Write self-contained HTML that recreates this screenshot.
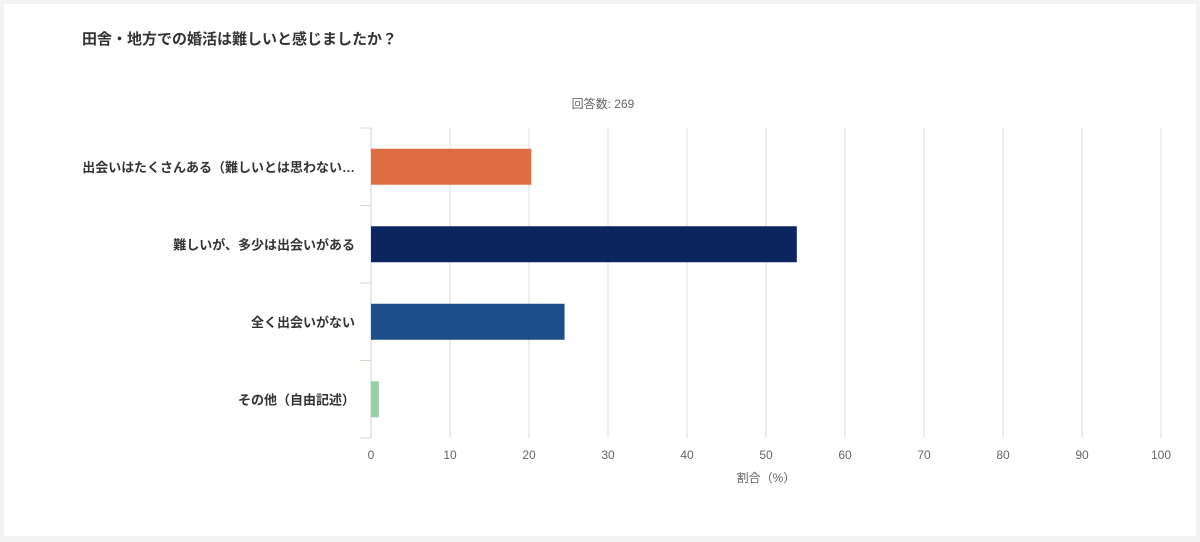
<!DOCTYPE html>
<html><head><meta charset="utf-8"><style>
body{margin:0;background:#f3f3f3;font-family:"Liberation Sans","Noto Sans CJK JP",sans-serif;}
#card{position:absolute;left:4px;top:4px;width:1192px;height:532px;background:#fff;}
</style></head><body>
<div id="card"></div>
<svg id="chart" width="1200" height="542" style="position:absolute;left:0;top:0">
<text x="82" y="44" font-size="15" font-weight="bold" fill="#333">田舎・地方での婚活は難しいと感じましたか？</text>
<text x="603" y="108" font-size="12" fill="#666" text-anchor="middle">回答数: 269</text>
<text x="766" y="482" font-size="12" fill="#666" text-anchor="middle">割合（%）</text>
<g id="grid"></g><g id="bars"></g><g id="labels"></g>
</svg>
<script>
const categories=["出会いはたくさんある（難しいとは思わない…","難しいが、多少は出会いがある","全く出会いがない","その他（自由記述）"];
const values=[20.3,53.9,24.5,1.0];
const colors=["#e06c41","#0b2560","#1e4d8c","#96cfa6"];
const ticks=[0,10,20,30,40,50,60,70,80,90,100];
const NS="http://www.w3.org/2000/svg";
const x0=371,x1=1161,yTop=128,yBot=438;
const xs=v=>x0+(x1-x0)*v/100;
const band=(yBot-yTop)/categories.length;
function mk(t,a,p){const e=document.createElementNS(NS,t);for(const k in a)e.setAttribute(k,a[k]);p.appendChild(e);return e;}
const g=document.getElementById('grid'),b=document.getElementById('bars'),l=document.getElementById('labels');
ticks.forEach(t=>{
 const ln=mk('line',{x1:xs(t),x2:xs(t),y1:yTop,y2:yBot,stroke:t===0?'#c8d0e0':'#dedede','stroke-width':1},g);
 
 
 const tx=mk('text',{x:xs(t),y:yBot+21,'font-size':12,fill:'#666','text-anchor':'middle'},g);
 tx.textContent=t;
 
 
});
for(let i=0;i<=categories.length;i++){
 const tk=mk('line',{x1:360,x2:371,y1:yTop+band*i,y2:yTop+band*i,stroke:'#ccd6eb'},g);
 
 
}
categories.forEach((c,i)=>{
 const cy=yTop+band*(i+0.5);
 const r=mk('rect',{x:x0,y:cy-18,width:xs(values[i])-x0,height:36,fill:colors[i]},b);
 
 
 const t=mk('text',{x:355,y:cy+5,'font-size':13,'font-weight':'bold',fill:'#333','text-anchor':'end'},l);
 t.textContent=c;
 
 
});
</script>
</body></html>
